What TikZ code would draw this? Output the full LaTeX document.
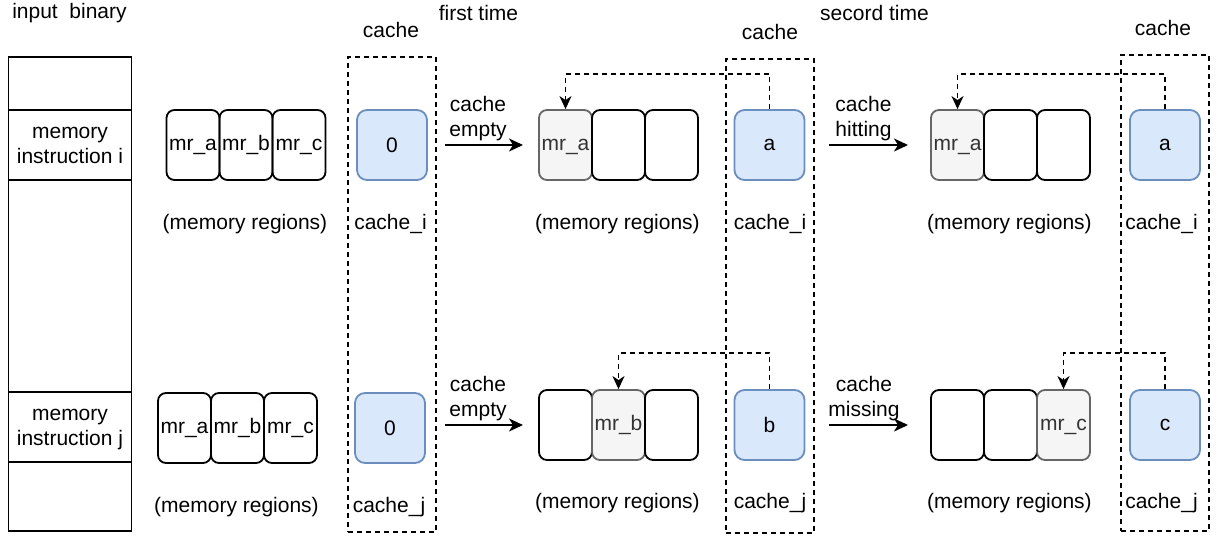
\documentclass[tikz,border=0pt]{standalone}
\usepackage{fontspec}
\setmainfont{Liberation Sans}
\usetikzlibrary{arrows.meta}
\definecolor{cfill}{HTML}{DAE8FC}
\definecolor{cline}{HTML}{6C8EBF}
\definecolor{gfill}{HTML}{F5F5F5}
\definecolor{gline}{HTML}{666666}
\definecolor{gtext}{HTML}{333333}
\begin{document}
\begin{tikzpicture}[x=0.5pt,y=-0.5pt,
  font=\fontsize{10.5pt}{12.5pt}\selectfont,
  bin/.style={draw,line width=0.8pt,minimum width=61.5pt,inner sep=0pt,align=center,text depth=0pt},
  mr/.style={draw,line width=0.9pt,rounded corners=4pt,minimum width=26.5pt,minimum height=35pt,inner sep=0pt,text height=7pt,text depth=1.6pt},
  mrhit/.style={mr,draw=gline,fill=gfill,text=gtext},
  cbox/.style={draw=cline,fill=cfill,line width=0.9pt,rounded corners=5pt,minimum size=35pt,inner sep=0pt},
  cframe/.style={draw,line width=0.8pt,dash pattern=on 2.5pt off 2pt,minimum width=44pt,inner sep=0pt},
  flow/.style={line width=0.8pt,-{Stealth[length=7pt,width=6.5pt,inset=2pt]}},
  link/.style={line width=0.8pt,dash pattern=on 2.5pt off 2pt,-{Stealth[length=6.5pt,width=6pt,inset=2pt]}},
  lbl/.style={inner sep=0pt,align=center}]
\useasboundingbox (0,0) rectangle (1226,540);

\node[lbl] (title0) at (69.5,13) {input\ \ binary};
\node[lbl] (title1) at (478.5,13) {first time};
\node[lbl] (title2) at (874.5,13) {secord time};

\node[bin,minimum height=26.5pt] (inb0) at (70,83.5) {};
\node[bin,minimum height=35pt] (inbi) at (70,145) {memory\\instruction i};
\node[bin,minimum height=106pt] (inb1) at (70,286) {};
\node[bin,minimum height=35pt] (inbj) at (70,427) {memory\\instruction j};
\node[bin,minimum height=34.5pt] (inb2) at (70,496.5) {};

\node[mr] (ria) at (193,145) {mr\_a};
\node[mr] (rib) at (246,145) {mr\_b};
\node[mr] (ric) at (299,145) {mr\_c};
\node[lbl] (rli) at (245,224) {(memory regions)};
\node[mr] (rja) at (184.5,428) {mr\_a};
\node[mr] (rjb) at (237.5,428) {mr\_b};
\node[mr] (rjc) at (290.5,428) {mr\_c};
\node[lbl] (rlj) at (236.5,507) {(memory regions)};

\node[cframe,minimum height=237.5pt] (fr0) at (392,294.5) {};
\node[lbl] (frl0) at (391,30) {cache};
\node[cbox] (c0i) at (392,145) {0};
\node[lbl] (c0li) at (390.5,224) {cache\_i};
\node[cbox] (c0j) at (390,428) {0};
\node[lbl] (c0lj) at (389,507) {cache\_j};

\coordinate (s1i) at (445,145);
\coordinate (e1i) at (523,145);
\coordinate (s1j) at (445,425);
\coordinate (e1j) at (523,425);
\node[lbl] (t1i) at (478,119) {cache\\empty};
\node[lbl] (t1j) at (478,399) {cache\\empty};
\path[draw,flow] (s1i) -- (e1i);
\path[draw,flow] (s1j) -- (e1j);

\node[mrhit] (fia) at (565.5,145) {mr\_a};
\node[mr] (fib) at (618.5,145) {};
\node[mr] (fic) at (671.5,145) {};
\node[lbl] (fli) at (617.5,224) {(memory regions)};
\node[mr] (fja) at (565.5,425) {};
\node[mrhit] (fjb) at (618.5,425) {mr\_b};
\node[mr] (fjc) at (671.5,425) {};
\node[lbl] (flj) at (617.5,503) {(memory regions)};

\node[cframe,minimum height=237pt] (frf) at (770,296) {};
\node[lbl] (frlf) at (770,32) {cache};
\node[cbox] (cfi) at (769.5,145) {a};
\node[lbl] (cfli) at (770,224) {cache\_i};
\node[cbox] (cfj) at (769.5,425) {b};
\node[lbl] (cflj) at (770,503) {cache\_j};
\path[draw,link] (cfi.north) -- ++(0,-35) -| (fia.north);
\path[draw,link] (cfj.north) -- ++(0,-36) -| (fjb.north);

\coordinate (s2i) at (829,145);
\coordinate (e2i) at (908,145);
\coordinate (s2j) at (829,425);
\coordinate (e2j) at (908,425);
\node[lbl] (t2i) at (863.5,119) {cache\\hitting};
\node[lbl] (t2j) at (864,399) {cache\\missing};
\path[draw,flow] (s2i) -- (e2i);
\path[draw,flow] (s2j) -- (e2j);

\node[mrhit] (sia) at (957.5,145) {mr\_a};
\node[mr] (sib) at (1010.5,145) {};
\node[mr] (sic) at (1063.5,145) {};
\node[lbl] (sli) at (1009.5,224) {(memory regions)};
\node[mr] (sja) at (957.5,425) {};
\node[mr] (sjb) at (1010.5,425) {};
\node[mrhit] (sjc) at (1063.5,425) {mr\_c};
\node[lbl] (slj) at (1009.5,503) {(memory regions)};

\node[cframe,minimum height=238pt] (frs) at (1165,293) {};
\node[lbl] (frls) at (1163,28) {cache};
\node[cbox] (csi) at (1165,145) {a};
\node[lbl] (csli) at (1161.5,224) {cache\_i};
\node[cbox] (csj) at (1165,425) {c};
\node[lbl] (cslj) at (1161.5,503) {cache\_j};
\path[draw,link] (csi.north) -- ++(0,-35) -| (sia.north);
\path[draw,link] (csj.north) -- ++(0,-36) -| (sjc.north);
\end{tikzpicture}
\end{document}
